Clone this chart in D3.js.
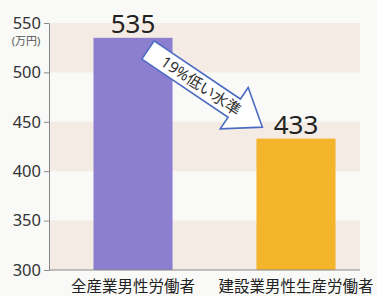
<!DOCTYPE html>
<html>
<head>
<meta charset="utf-8">
<script src="https://cdn.jsdelivr.net/npm/d3@7"></script>
<style>
  body { margin: 0; background: #f9f9f7; }
  svg { display: block; }
  text { font-family: "Noto Sans", "Noto Sans CJK JP", sans-serif; }
</style>
</head>
<body>
<script>
const categories = ['全産業男性労働者', '建設業男性生産労働者']
const values = [535, 433]
const yTicks = [300, 350, 400, 450, 500, 550]
const unitLabel = '(万円)'
const arrowLabel = '19%低い水準'
const barColors = ['#8c7fcf', '#f4b42c']

const width = 377, height = 296
const svg = d3.select('body').append('svg').attr('width', width).attr('height', height)

const y = d3.scaleLinear().domain([300, 550]).range([270, 23])
const x = d3.scaleBand().domain(categories).range([49, 380]).paddingInner(0.515).paddingOuter(0.273)
const plotRight = 360

// alternating bands
const bands = d3.pairs(yTicks).filter((d, i) => i % 2 === 0)
svg.selectAll('rect.band')
  .data(bands)
  .join('rect')
  .attr('class', 'band')
  .attr('x', 49)
  .attr('width', plotRight - 49)
  .attr('y', d => y(d[1]))
  .attr('height', d => y(d[0]) - y(d[1]))
  .attr('fill', '#f3ebe4')

// bars
svg.selectAll('rect.bar')
  .data(values)
  .join('rect')
  .attr('class', 'bar')
  .attr('x', (d, i) => x(categories[i]))
  .attr('width', x.bandwidth())
  .attr('y', d => y(d))
  .attr('height', d => y(300) - y(d))
  .attr('fill', (d, i) => barColors[i])

// value labels
svg.selectAll('text.val')
  .data(values)
  .join('text')
  .attr('class', 'val')
  .attr('x', (d, i) => x(categories[i]) + x.bandwidth() / 2)
  .attr('y', d => y(d) - 5)
  .attr('text-anchor', 'middle')
  .attr('font-size', 26)
  .attr('fill', '#222')
  .text(d => d)

// y axis
const axis = svg.append('g').attr('transform', 'translate(49,0)')
  .call(d3.axisLeft(y).tickValues(yTicks).tickSize(5).tickSizeOuter(0))
axis.select('.domain').attr('stroke', '#888')
axis.selectAll('.tick line').attr('stroke', '#888')
axis.selectAll('.tick text')
  .attr('font-size', 16.5)
  .attr('fill', '#333')
  .attr('x', -8)
  .attr('font-family', '"Noto Sans", sans-serif')

// baseline
svg.append('line')
  .attr('x1', 49).attr('x2', plotRight)
  .attr('y1', y(300)).attr('y2', y(300))
  .attr('stroke', '#888')

svg.append('text')
  .attr('x', 26).attr('y', 45)
  .attr('text-anchor', 'middle')
  .attr('font-size', 11)
  .attr('fill', '#555')
  .attr('font-family', '"Noto Sans CJK JP", sans-serif')
  .text(unitLabel)

// category labels
svg.selectAll('text.cat')
  .data(categories)
  .join('text')
  .attr('class', 'cat')
  .attr('x', d => x(d) + x.bandwidth() / 2)
  .attr('y', 292)
  .attr('text-anchor', 'middle')
  .attr('font-size', 15.5)
  .attr('fill', '#222')
  .attr('font-family', '"Noto Sans CJK JP", sans-serif')
  .text(d => d)

// block arrow
const len = 138, shaftW = 11, headW = 25, headL = 34
const arrow = svg.append('g').attr('transform', 'translate(148,50) rotate(34)')
arrow.append('path')
  .attr('d', `M0,${-shaftW} L${len - headL},${-shaftW} L${len - headL},${-headW} L${len},0 L${len - headL},${headW} L${len - headL},${shaftW} L0,${shaftW} Z`)
  .attr('fill', '#fff')
  .attr('stroke', '#4b6cc2')
  .attr('stroke-width', 1.6)
  .attr('stroke-linejoin', 'miter')
arrow.append('text')
  .attr('x', 64).attr('y', 0)
  .attr('dy', '0.36em')
  .attr('text-anchor', 'middle')
  .attr('font-size', 15.5)
  .attr('fill', '#333')
  .attr('font-family', '"Noto Sans CJK JP", sans-serif')
  .text(arrowLabel)
</script>
</body>
</html>
